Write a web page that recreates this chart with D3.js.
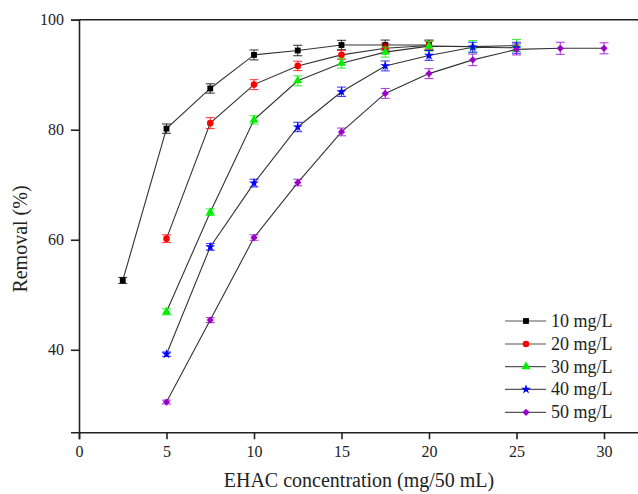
<!DOCTYPE html>
<html>
<head>
<meta charset="utf-8">
<script src="https://cdn.jsdelivr.net/npm/d3@7/dist/d3.min.js"></script>
<style>
  html, body { margin: 0; padding: 0; background: #fff; }
  svg { display: block; font-family: "Liberation Serif", "Times New Roman", serif; }
</style>
</head>
<body>
<svg id="chart" width="638" height="494"></svg>
<script>
// EHAC dosage (mg / 50 mL) for each initial concentration series
const dose10 = [2.5, 5, 7.5, 10, 12.5, 15, 17.5, 20];
const dose20 = [5, 7.5, 10, 12.5, 15, 17.5, 20];
const dose30 = [5, 7.5, 10, 12.5, 15, 17.5, 20, 22.5, 25];
const dose40 = [5, 7.5, 10, 12.5, 15, 17.5, 20, 22.5, 25];
const dose50 = [5, 7.5, 10, 12.5, 15, 17.5, 20, 22.5, 25, 27.5, 30];

// Removal (%) and standard deviation
const removal10 = [52.6, 80.2, 87.5, 93.6, 94.4, 95.4, 95.4, 95.4];
const err10     = [0.55, 0.85, 0.85, 0.9, 0.95, 0.85, 0.9, 0.9];
const removal20 = [60.2, 81.2, 88.2, 91.6, 93.6, 94.8, 95.3];
const err20     = [0.7, 1.0, 0.9, 0.85, 0.8, 0.8, 0.8];
const removal30 = [46.9, 65.0, 81.8, 88.9, 92.1, 94.1, 95.2, 95.1, 95.3];
const err30     = [0.55, 0.6, 0.75, 0.9, 0.9, 0.9, 0.9, 1.1, 1.1];
const removal40 = [39.2, 58.7, 70.3, 80.5, 86.9, 91.6, 93.5, 95.0, 94.9];
const err40     = [0.4, 0.6, 0.7, 0.85, 0.85, 0.9, 0.9, 0.9, 1.0];
const removal50 = [30.5, 45.4, 60.4, 70.4, 79.6, 86.6, 90.2, 92.7, 94.6, 94.8, 94.8];
const err50     = [0.35, 0.45, 0.5, 0.6, 0.7, 0.9, 0.9, 1.05, 1.0, 1.1, 1.0];

const seriesNames = ["10 mg/L", "20 mg/L", "30 mg/L", "40 mg/L", "50 mg/L"];
const seriesColors = ["#000000", "#ff0000", "#00ee00", "#0000ff", "#9900cc"];
// symbol type, area and rotation (the purple marker is a square turned 45°)
const seriesSymbols = [d3.symbolSquare, d3.symbolCircle, d3.symbolTriangle, d3.symbolStar, d3.symbolSquare];
const symbolSizes = [34, 34, 34, 30, 26];
const symbolRotation = [0, 0, 0, 0, 45];

const xTicks = [0, 5, 10, 15, 20, 25, 30];
const yTicks = [40, 60, 80, 100];

const doses = [dose10, dose20, dose30, dose40, dose50];
const removals = [removal10, removal20, removal30, removal40, removal50];
const errs = [err10, err20, err30, err40, err50];

const series = seriesNames.map((name, i) => ({
  name,
  color: seriesColors[i],
  symbol: seriesSymbols[i],
  size: symbolSizes[i],
  rot: symbolRotation[i],
  points: doses[i].map((d, j) => ({ x: d, y: removals[i][j], e: errs[i][j] }))
}));

const svg = d3.select("#chart");
const x = d3.scaleLinear().domain([0, 32]).range([79, 639]);
const y = d3.scaleLinear().domain([25, 100]).range([432.3, 19.7]);

// frame: top edge
svg.append("line")
  .attr("x1", x(0)).attr("x2", x(32))
  .attr("y1", y(100)).attr("y2", y(100))
  .attr("stroke", "#222").attr("stroke-width", 1.6);

// bottom axis
const xAxis = svg.append("g")
  .attr("transform", `translate(0,${y(25)})`)
  .call(d3.axisBottom(x).tickValues(xTicks).tickFormat(d3.format("d")).tickSize(7).tickPadding(6));
// left axis
const yAxis = svg.append("g")
  .attr("transform", `translate(${x(0)},0)`)
  .call(d3.axisLeft(y).tickValues(yTicks).tickFormat(d3.format("d")).tickSize(8).tickPadding(7));

[xAxis, yAxis].forEach(g => {
  g.select(".domain").attr("stroke", "#222").attr("stroke-width", 1.6);
  g.selectAll(".tick line").attr("stroke", "#222").attr("stroke-width", 1.6);
  g.selectAll(".tick text")
    .attr("fill", "#222")
    .style("font-family", "Liberation Serif, serif")
    .style("font-size", "16px");
});

// axis titles
svg.append("text")
  .attr("x", 359).attr("y", 487)
  .attr("text-anchor", "middle")
  .style("font-size", "20px").attr("fill", "#222")
  .text("EHAC concentration (mg/50 mL)");

svg.append("text")
  .attr("transform", "translate(27,239) rotate(-90)")
  .attr("text-anchor", "middle")
  .style("font-size", "20px").attr("fill", "#222")
  .text("Removal (%)");

const line = d3.line().x(d => x(d.x)).y(d => y(d.y));

// connecting lines
svg.append("g").selectAll("path")
  .data(series)
  .join("path")
  .attr("d", s => line(s.points))
  .attr("fill", "none")
  .attr("stroke", "#333")
  .attr("stroke-width", 1.1);

// error bars and markers, drawn series by series
series.forEach(s => {
  const g = svg.append("g");
  const eb = g.selectAll("g.eb").data(s.points).join("g").attr("class", "eb")
    .attr("stroke", s.color).attr("stroke-width", 1.1).attr("stroke-opacity", 0.75);
  eb.append("line")
    .attr("x1", d => x(d.x)).attr("x2", d => x(d.x))
    .attr("y1", d => y(d.y + d.e)).attr("y2", d => y(d.y - d.e));
  eb.append("line")
    .attr("x1", d => x(d.x) - 4.5).attr("x2", d => x(d.x) + 4.5)
    .attr("y1", d => y(d.y + d.e)).attr("y2", d => y(d.y + d.e));
  eb.append("line")
    .attr("x1", d => x(d.x) - 4.5).attr("x2", d => x(d.x) + 4.5)
    .attr("y1", d => y(d.y - d.e)).attr("y2", d => y(d.y - d.e));

  g.selectAll("path.mk").data(s.points).join("path").attr("class", "mk")
    .attr("transform", d => `translate(${x(d.x)},${y(d.y)}) rotate(${s.rot})`)
    .attr("d", d3.symbol().type(s.symbol).size(s.size))
    .attr("fill", s.color);
});

// legend
const legendY = [321, 344, 366.7, 389.3, 412.3];
const legend = svg.append("g");
series.forEach((s, i) => {
  const row = legend.append("g").attr("transform", `translate(0,${legendY[i]})`);
  row.append("line").attr("x1", 505).attr("x2", 546).attr("y1", 0).attr("y2", 0)
    .attr("stroke", "#555").attr("stroke-width", 1.2);
  row.append("path").attr("transform", `translate(526,0) rotate(${s.rot})`)
    .attr("d", d3.symbol().type(s.symbol).size(s.size))
    .attr("fill", s.color);
  row.append("text").attr("x", 551).attr("y", 6)
    .style("font-size", "18px").attr("fill", "#222")
    .text(s.name);
});
</script>
</body>
</html>
